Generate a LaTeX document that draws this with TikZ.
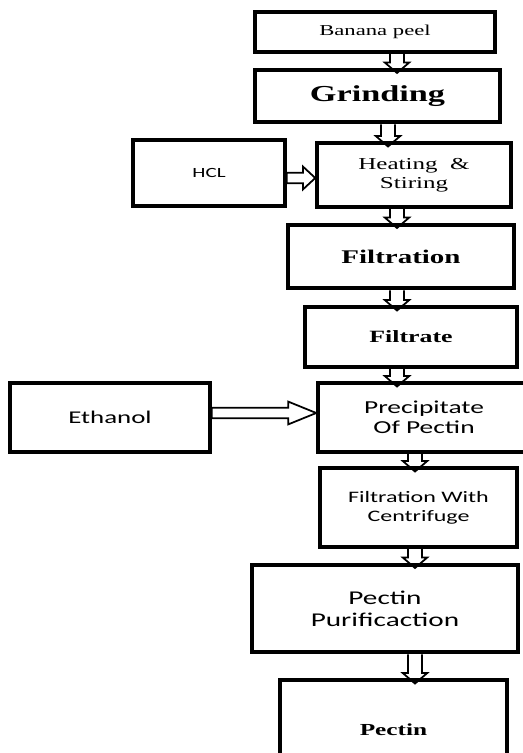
\documentclass[tikz,border=0pt]{standalone}
\usepackage{fontspec}
\setmainfont{Liberation Serif}[FakeStretch=1.5]
\newfontfamily\calibrifont{Carlito}[FakeStretch=1.5]
\usetikzlibrary{calc}

% block arrows (hollow), drawn between two points
\newcommand{\downblk}[2]{%
  \draw[blk] let \p1=(#1), \p2=(#2) in
    (\x1-4pt,\y1) -- (\x1-4pt,\y2+3pt) -- (\x1-7pt,\y2+3pt) -- (\x1,\y2-3pt)
    -- (\x1+7pt,\y2+3pt) -- (\x1+4pt,\y2+3pt) -- (\x1+4pt,\y1);}
\newcommand{\rightblk}[3]{%
  \draw[blk] let \p1=(#1), \p2=(#2) in
    (\x1,\y1+3pt) -- (\x2-#3,\y1+3pt) -- (\x2-#3,\y1+6.5pt) -- (\x2,\y1)
    -- (\x2-#3,\y1-6.5pt) -- (\x2-#3,\y1-3pt) -- (\x1,\y1-3pt) -- cycle;}

\begin{document}
\begin{tikzpicture}[x=0.02cm, y=-0.02cm,
  box/.style={draw, rectangle, line width=2pt, inner sep=0pt, align=center},
  thickbox/.style={box, line width=2.6pt},
  blk/.style={line width=1pt, line join=miter}]
\path[use as bounding box, clip] (0,0) rectangle (523,753);

% Blocos
\node[box, minimum width=4.8cm, minimum height=0.8cm, font=\fontsize{8.6}{10}\selectfont] (peel) at (375,32) {Banana peel};
\node[thickbox, minimum width=4.9cm, minimum height=1.04cm, font=\bfseries\fontsize{13}{15}\selectfont] (grind) at (377.5,96) {Grinding};
\node[box, minimum width=3.88cm, minimum height=1.28cm, font=\fontsize{9.5}{10.8}\selectfont] (heat) at (414,175) {Heating\ \ \&\\Stiring};
\node[thickbox, minimum width=4.52cm, minimum height=1.26cm, font=\bfseries\fontsize{11}{13}\selectfont] (filt) at (401,256.5) {Filtration};
\node[box, minimum width=4.24cm, minimum height=1.2cm, font=\bfseries\fontsize{9.8}{11}\selectfont] (filtrate) at (411,337) {Filtrate};
\node[box, minimum width=4.24cm, minimum height=1.38cm, font=\calibrifont\fontsize{10.4}{11.4}\selectfont] (precip) at (424,417.5) {Precipitate\\Of Pectin};
\node[box, minimum width=3.94cm, minimum height=1.58cm, font=\calibrifont\fontsize{9.1}{10.8}\selectfont] (fwc) at (418.5,507.5) {Filtration With\\Centrifuge};
\node[thickbox, minimum width=5.32cm, minimum height=1.74cm, font=\calibrifont\fontsize{11.1}{12.5}\selectfont] (purif) at (385,608.5) {Pectin\\Purificaction};
\node[box, minimum width=4.54cm, minimum height=2cm, font=\bfseries\fontsize{9.6}{11}\selectfont] (pectin) at (393.5,730) {Pectin};

% Entradas
\node[box, minimum width=3.04cm, minimum height=1.32cm, font=\calibrifont\fontsize{8}{10}\selectfont] (hcl) at (209,173) {HCL};
\node[box, minimum width=4cm, minimum height=1.38cm, font=\calibrifont\fontsize{10.2}{11}\selectfont] (ethanol) at (110,417.5) {Ethanol};

% colunas das setas
\coordinate (colA) at (397,0);
\coordinate (colB) at (388,0);
\coordinate (colC) at (415,0);
\coordinate (rowH) at (0,178);
\coordinate (rowE) at (0,413);

% Setas
\downblk{peel.south -| colA}{grind.north -| colA}
\downblk{grind.south -| colB}{heat.north -| colB}
\downblk{heat.south -| colA}{filt.north -| colA}
\downblk{filt.south -| colA}{filtrate.north -| colA}
\downblk{filtrate.south -| colA}{precip.north -| colA}
\downblk{precip.south -| colC}{fwc.north -| colC}
\downblk{fwc.south -| colC}{purif.north -| colC}
\downblk{purif.south -| colC}{pectin.north -| colC}
\rightblk{hcl.east |- rowH}{heat.west |- rowH}{7pt}
\rightblk{ethanol.east |- rowE}{precip.west |- rowE}{16pt}
\end{tikzpicture}
\end{document}
